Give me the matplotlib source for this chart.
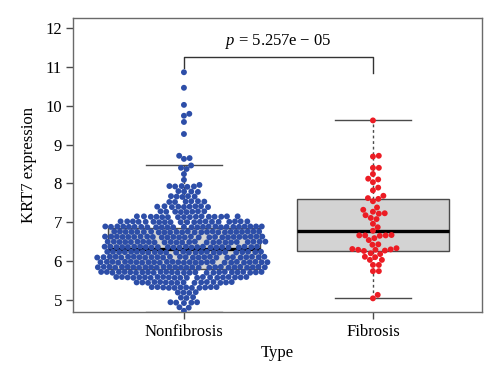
import numpy as np
import matplotlib
matplotlib.use("Agg")
import matplotlib.pyplot as plt

plt.rcParams['font.family'] = ['Liberation Serif', 'DejaVu Serif']
plt.rcParams['mathtext.fontset'] = 'custom'
plt.rcParams['mathtext.it'] = 'Liberation Serif:italic'
plt.rcParams['mathtext.rm'] = 'Liberation Serif'

groups = ['Nonfibrosis', 'Fibrosis']
point_colors = ['#2d4ea8', '#ec1c24']

# KRT7 expression
nonfibrosis_expr = [
    10.86, 10.46, 10.02, 9.79, 9.74, 9.58, 9.27, 8.71, 8.65, 8.63, 8.46, 8.40, 8.37, 8.24, 8.09, 7.96,
    7.92, 7.93, 7.91, 7.92, 7.93,
    7.79, 7.80, 7.78, 7.79,
    7.66, 7.67, 7.65, 7.66, 7.67,
    7.53, 7.54, 7.52, 7.53, 7.54, 7.52,
    7.40, 7.41, 7.39, 7.40, 7.41, 7.39, 7.40, 7.41, 7.39,
    7.27, 7.28, 7.26, 7.27, 7.28, 7.26, 7.27, 7.28,
    7.14, 7.15, 7.13, 7.14, 7.15, 7.13, 7.14, 7.15, 7.13, 7.14, 7.15, 7.13, 7.14, 7.15, 7.13, 7.14,
    7.01, 7.02, 7.00, 7.01, 7.02, 7.00, 7.01, 7.02, 7.00, 7.01, 7.02, 7.00, 7.01, 7.02, 7.00, 7.01,
    7.02, 7.00, 7.01, 7.02,
    6.88, 6.89, 6.87, 6.88, 6.89, 6.87, 6.88, 6.89, 6.87, 6.88, 6.89, 6.87, 6.88, 6.89, 6.87, 6.88,
    6.89, 6.87, 6.88, 6.89, 6.87, 6.88, 6.89, 6.87, 6.88, 6.89,
    6.75, 6.76, 6.74, 6.75, 6.76, 6.74, 6.75, 6.76, 6.74, 6.75, 6.76, 6.74, 6.75, 6.76, 6.74, 6.75,
    6.76, 6.74, 6.75, 6.76, 6.74, 6.75, 6.76, 6.74, 6.75,
    6.62, 6.63, 6.61, 6.62, 6.63, 6.61, 6.62, 6.63, 6.61, 6.62, 6.63, 6.61, 6.62, 6.63, 6.61, 6.62,
    6.63, 6.61, 6.62, 6.63, 6.61, 6.62, 6.63, 6.61, 6.62, 6.63,
    6.49, 6.50, 6.48, 6.49, 6.50, 6.48, 6.49, 6.50, 6.48, 6.49, 6.50, 6.48, 6.49, 6.50, 6.48, 6.49,
    6.50, 6.48, 6.49, 6.50, 6.48, 6.49, 6.50, 6.48, 6.49,
    6.36, 6.37, 6.35, 6.36, 6.37, 6.35, 6.36, 6.37, 6.35, 6.36, 6.37, 6.35, 6.36, 6.37, 6.35, 6.36,
    6.37, 6.35, 6.36, 6.37, 6.35, 6.36, 6.37, 6.35, 6.36,
    6.23, 6.24, 6.22, 6.23, 6.24, 6.22, 6.23, 6.24, 6.22, 6.23, 6.24, 6.22, 6.23, 6.24, 6.22, 6.23,
    6.24, 6.22, 6.23, 6.24, 6.22, 6.23, 6.24, 6.22, 6.23,
    6.10, 6.11, 6.09, 6.10, 6.11, 6.09, 6.10, 6.11, 6.09, 6.10, 6.11, 6.09, 6.10, 6.11, 6.09, 6.10,
    6.11, 6.09, 6.10, 6.11, 6.09, 6.10, 6.11, 6.09, 6.10, 6.11, 6.09,
    5.97, 5.98, 5.96, 5.97, 5.98, 5.96, 5.97, 5.98, 5.96, 5.97, 5.98, 5.96, 5.97, 5.98, 5.96, 5.97,
    5.98, 5.96, 5.97, 5.98, 5.96, 5.97, 5.98, 5.96, 5.97, 5.98, 5.96, 5.97,
    5.84, 5.85, 5.83, 5.84, 5.85, 5.83, 5.84, 5.85, 5.83, 5.84, 5.85, 5.83, 5.84, 5.85, 5.83, 5.84,
    5.85, 5.83, 5.84, 5.85, 5.83, 5.84, 5.85, 5.83, 5.84, 5.85, 5.83, 5.84,
    5.71, 5.72, 5.70, 5.71, 5.72, 5.70, 5.71, 5.72, 5.70, 5.71, 5.72, 5.70, 5.71, 5.72, 5.70, 5.71,
    5.72, 5.70, 5.71, 5.72, 5.70, 5.71, 5.72, 5.70, 5.71, 5.72, 5.70,
    5.58, 5.59, 5.57, 5.58, 5.59, 5.57, 5.58, 5.59, 5.57, 5.58, 5.59, 5.57, 5.58, 5.59, 5.57, 5.58,
    5.59, 5.57, 5.58, 5.59, 5.57, 5.58,
    5.45, 5.46, 5.44, 5.45, 5.46, 5.44, 5.45, 5.46, 5.44, 5.45, 5.46, 5.44, 5.45, 5.46, 5.44, 5.45,
    5.32, 5.33, 5.31, 5.32, 5.33, 5.31, 5.32, 5.33, 5.31, 5.32, 5.33, 5.31,
    5.19, 5.20, 5.18, 5.19,
    5.06, 5.07, 5.05,
    4.93, 4.94, 4.92, 4.93, 4.94,
    4.80, 4.81,
    4.72,
]

fibrosis_expr = [
    9.62, 8.71, 8.69, 8.40, 8.40, 8.24, 8.12, 8.10, 8.03, 7.89, 7.82, 7.68, 7.62, 7.60, 7.54,
    7.38, 7.32, 7.27, 7.23, 7.22, 7.18, 7.11, 7.08, 6.96, 6.87, 6.78, 6.66, 6.66, 6.65, 6.67,
    6.66, 6.59, 6.54, 6.43, 6.42, 6.33, 6.31, 6.29, 6.29, 6.30, 6.27, 6.26, 6.20, 6.18, 6.11,
    6.10, 6.03, 6.03, 5.90, 5.90, 5.74, 5.74, 5.13, 5.04,
]

# box statistics as drawn (lower whisker, Q1, median, Q3, upper whisker)
whisker_low = [4.70, 5.05]
q1 = [5.79, 6.26]
medians = [6.30, 6.78]
q3 = [6.85, 7.60]
whisker_high = [8.47, 9.62]

p_label = '$p$ = 5.257e − 05'

fig = plt.figure(figsize=(5, 3.88), dpi=100)
ax = fig.add_axes([0.146, 0.196, 0.818, 0.758])
ax.set_xlim(0.413, 2.577)
ax.set_ylim(4.69, 12.26)

stats = []
for i in range(2):
    stats.append(dict(whislo=whisker_low[i], q1=q1[i], med=medians[i], q3=q3[i],
                      whishi=whisker_high[i], fliers=[]))
ax.bxp(stats, positions=[1, 2], widths=0.8, patch_artist=True, showfliers=False,
       boxprops=dict(facecolor='#d3d3d3', edgecolor='#4a4a4a', linewidth=1.0),
       medianprops=dict(color='black', linewidth=2.4),
       whiskerprops=dict(color='#4a4a4a', linewidth=1.0, linestyle=(0, (2, 2))),
       capprops=dict(color='#4a4a4a', linewidth=1.0), capwidths=0.4, zorder=1)


def swarm_offsets(yp, d):
    # simple beeswarm in pixel space, points placed in ascending order
    order = np.argsort(yp, kind='stable')
    xs = np.zeros(len(yp))
    px, py = [], []
    for i in order:
        y = yp[i]
        if px:
            ax_ = np.array(px)
            ay_ = np.array(py)
            near = np.abs(ay_ - y) < d
            nx, ny = ax_[near], ay_[near]
            dx = np.sqrt(np.maximum(d * d - (ny - y) ** 2, 0))
            cands = [0.0] + list(nx + dx) + list(nx - dx)
            cands.sort(key=abs)
            for c in cands:
                if np.all((nx - c) ** 2 + (ny - y) ** 2 >= d * d - 1e-6):
                    xs[i] = c
                    break
        px.append(xs[i])
        py.append(y)
    return xs


fig.canvas.draw()
trans = ax.transData
inv = trans.inverted()
for k, vals in enumerate([nonfibrosis_expr, fibrosis_expr]):
    vals = np.array(vals)
    pix = trans.transform(np.column_stack([np.full(len(vals), k + 1.0), vals]))
    off = swarm_offsets(pix[:, 1], [5.7, 5.9][k])
    pix[:, 0] += off
    data = inv.transform(pix)
    ax.scatter(data[:, 0], data[:, 1], s=18, color=point_colors[k], edgecolors='none', zorder=3)

# significance bracket
ax.plot([1, 1, 2, 2], [10.97, 11.26, 11.26, 10.83], color='#333333', linewidth=1.0, zorder=2)
ax.text(1.5, 11.66, p_label, ha='center', va='center', fontsize=12)

ax.set_xticks([1, 2])
ax.set_xticklabels(groups, fontsize=12)
ax.set_yticks(range(5, 13))
ax.tick_params(axis='y', labelsize=12, length=5, width=1, color='#4a4a4a', pad=3)
ax.tick_params(axis='x', length=5, width=1, color='#4a4a4a', pad=4)
for s in ax.spines.values():
    s.set_color('#6a6a6a')
    s.set_linewidth(1.0)
ax.set_xlabel('Type', fontsize=12, labelpad=3)
ax.set_ylabel('KRT7 expression', fontsize=12, labelpad=6)

fig.savefig('out.png', dpi=100)
